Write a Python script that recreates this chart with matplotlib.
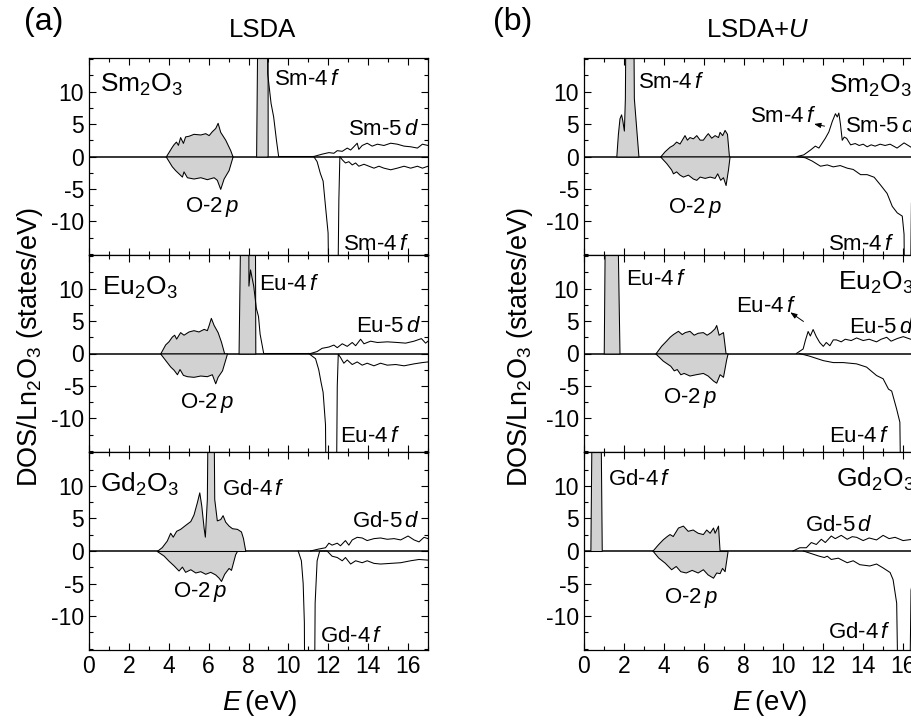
import numpy as np
import matplotlib
matplotlib.use("Agg")
import matplotlib.pyplot as plt
from matplotlib.ticker import MultipleLocator

plt.rcParams['font.family'] = ['Liberation Sans', 'DejaVu Sans']
plt.rcParams['mathtext.fontset'] = 'custom'
plt.rcParams['mathtext.rm'] = 'Liberation Sans'
plt.rcParams['mathtext.it'] = 'Liberation Sans:italic'
plt.rcParams['axes.unicode_minus'] = False

# ---- DOS curves, (E in eV, DOS) pairs ----
# spin up is positive, spin down negative; off-scale peaks put at 40

# (a) LSDA, Sm2O3
sm_a_o2p_up = [(3.85, 0), (4.15, 1.5), (4.24, 1.9), (4.36, 2.3), (4.46, 1.8), (4.57, 3.0), (4.71, 2.1),
               (4.82, 3.1), (4.99, 3.2), (5.24, 3.5), (5.58, 3.4), (5.83, 3.6), (6.0, 3.3), (6.16, 3.9),
               (6.33, 4.4), (6.45, 5.2), (6.58, 3.8), (6.83, 2.6), (7.08, 1.0), (7.2, 0)]
sm_a_o2p_dn = [(3.85, 0), (4.15, -1.5), (4.32, -2.1), (4.49, -2.6), (4.66, -3.1), (4.74, -2.3), (4.91, -3.2),
               (5.24, -3.4), (5.58, -3.2), (5.91, -3.5), (6.25, -3.2), (6.41, -3.6), (6.58, -5.0),
               (6.75, -3.4), (7.0, -2.1), (7.2, 0)]
sm_a_f_occ = [(8.38, 0), (8.5, 40), (8.95, 40), (8.96, 0)]
sm_a_up = [(8.93, 40), (8.96, 12.8), (9.13, 8.2), (9.26, 6.1), (9.4, 2.5), (9.51, 0), (11.27, 0), (11.69, 0.36),
           (12.03, 0.6), (12.28, 0.5), (12.45, 0.9), (12.7, 0.8), (12.95, 1.3), (13.12, 1.0), (13.28, 1.5),
           (13.45, 2.05), (13.53, 1.1), (13.7, 1.7), (13.95, 2.05), (14.2, 1.6), (14.46, 1.9), (14.79, 1.7),
           (15.13, 2.05), (15.46, 1.9), (15.8, 1.6), (16.13, 1.5), (16.47, 1.3), (16.72, 1.9), (17.0, 1.7)]
sm_a_dn = [(11.27, 0), (11.44, -0.8), (11.6, -2.6), (11.74, -3.8), (11.86, -7.7), (11.99, -11.8), (12.11, -40),
           (12.41, -40), (12.53, -6.7), (12.58, 0), (12.7, -0.5), (12.86, -1.0), (13.03, -0.8), (13.2, -1.3),
           (13.37, -1.0), (13.53, -1.5), (13.79, -1.2), (14.04, -1.5), (14.29, -1.8), (14.54, -1.5),
           (14.79, -1.8), (15.13, -2.05), (15.46, -1.8), (15.8, -1.5), (16.13, -1.8), (16.47, -1.5),
           (16.72, -1.8), (17.0, -1.5)]

# (a) LSDA, Eu2O3
eu_a_o2p_up = [(3.57, 0), (3.82, 1.4), (3.99, 1.9), (4.15, 2.6), (4.27, 2.9), (4.37, 2.3), (4.57, 3.3),
               (4.74, 2.9), (4.99, 3.4), (5.24, 3.6), (5.49, 3.4), (5.75, 3.8), (5.91, 3.6), (6.0, 4.4),
               (6.11, 5.5), (6.25, 4.4), (6.45, 3.3), (6.62, 1.8), (6.78, 0)]
eu_a_o2p_dn = [(3.57, 0), (3.82, -1.0), (4.07, -2.0), (4.24, -2.5), (4.41, -3.2), (4.54, -2.4), (4.71, -3.3),
               (4.91, -3.5), (5.24, -3.6), (5.58, -3.4), (5.91, -3.5), (6.16, -3.2), (6.33, -4.6),
               (6.45, -3.6), (6.67, -2.6), (6.92, 0)]
eu_a_f_occ = [(7.5, 0), (7.67, 40), (8.3, 40), (8.34, 0)]
eu_a_up = [(8.0, 40), (8.02, 10.4), (8.1, 12.9), (8.26, 10.4), (8.39, 7.0), (8.5, 5.7), (8.58, 3.0),
           (8.76, 0), (11.11, 0), (11.44, 0.3), (11.69, 0.8), (12.03, 1.0), (12.28, 1.3), (12.45, 0.9),
           (12.7, 1.5), (12.95, 1.1), (13.2, 1.7), (13.37, 1.2), (13.62, 2.2), (13.79, 1.5), (14.12, 1.9),
           (14.46, 1.7), (14.96, 1.8), (15.46, 1.7), (15.88, 1.6), (16.3, 1.9), (16.67, 2.3), (16.88, 1.6),
           (17.0, 1.9)]
eu_a_dn = [(11.02, 0), (11.36, -0.8), (11.52, -2.5), (11.64, -4.5), (11.74, -6.0), (11.86, -11), (11.94, -40),
           (12.36, -40), (12.45, -5), (12.5, -0.1), (12.61, -0.6), (12.78, -1.5), (12.95, -1.0), (13.2, -1.7),
           (13.45, -1.3), (13.7, -1.8), (13.95, -1.5), (14.29, -1.9), (14.62, -1.5), (14.96, -1.8),
           (15.38, -1.7), (15.8, -1.9), (16.3, -1.6), (16.72, -1.4), (17.0, -1.3)]

# (a) LSDA, Gd2O3 (occupied 4f sits inside the O-2p band)
gd_a_o2p_up = [(3.4, 0), (3.65, 0.6), (3.9, 1.6), (4.07, 2.8), (4.2, 2.2), (4.37, 3.1), (4.57, 3.4),
               (4.82, 4.0), (5.08, 4.6), (5.24, 5.6), (5.41, 7.5), (5.53, 9.0), (5.63, 7.0), (5.75, 3.5),
               (5.81, 2.2), (5.91, 8.0), (6.0, 40), (6.2, 40), (6.28, 8.0), (6.41, 4.7), (6.58, 4.9),
               (6.7, 5.5), (6.83, 4.5), (7.0, 3.9), (7.17, 3.5), (7.42, 3.4), (7.62, 3.0), (7.72, 2.0),
               (7.84, 0)]
gd_a_o2p_dn = [(3.4, 0), (3.74, -0.7), (3.99, -1.5), (4.24, -2.2), (4.49, -3.0), (4.66, -2.4), (4.82, -3.2),
               (5.08, -2.8), (5.33, -3.3), (5.58, -3.1), (5.83, -3.5), (6.08, -3.2), (6.33, -3.6),
               (6.5, -4.1), (6.62, -4.6), (6.78, -3.5), (7.0, -2.6), (7.12, -2.9), (7.33, -0.5), (7.42, 0)]
gd_a_f_occ = []
gd_a_up = [(11.11, 0), (11.52, 0.3), (11.86, 0.5), (12.03, 1.2), (12.19, 0.9), (12.45, 1.2), (12.61, 0.8),
           (12.86, 1.6), (13.03, 0.9), (13.2, 1.7), (13.45, 2.1), (13.7, 2.0), (13.95, 1.6), (14.29, 1.9),
           (14.62, 2.0), (14.96, 1.8), (15.3, 1.9), (15.63, 1.7), (16.0, 2.3), (16.3, 1.7), (16.55, 1.4),
           (16.8, 2.1), (17.0, 1.9)]
gd_a_dn = [(10.49, 0), (10.65, -1.5), (10.74, -5), (10.8, -11), (10.85, -40), (11.27, -40), (11.34, -8),
           (11.44, -1.5), (11.57, 0), (11.94, 0), (12.19, -0.8), (12.45, -1.0), (12.7, -1.5), (12.86, -1.0),
           (13.12, -2.0), (13.37, -1.5), (13.7, -1.8), (13.95, -1.5), (14.29, -1.9), (14.62, -2.0),
           (15.13, -1.9), (15.63, -1.8), (16.13, -1.5), (16.55, -1.3), (17.0, -1.4)]

# (b) LSDA+U, Sm2O3
sm_b_f_occ = [(1.62, 0), (1.7, 3.5), (1.78, 5.9), (1.86, 6.5), (1.92, 5.6), (2.0, 4.0), (2.05, 9.0),
              (2.12, 40), (2.43, 40), (2.5, 9.0), (2.73, 0)]
sm_b_o2p_up = [(3.82, 0), (4.04, 0.8), (4.29, 1.5), (4.46, 1.8), (4.62, 2.3), (4.79, 2.0), (5.04, 3.3),
               (5.16, 2.6), (5.29, 3.0), (5.46, 2.8), (5.63, 3.3), (5.8, 2.6), (5.96, 2.6), (6.1, 3.2),
               (6.21, 3.6), (6.38, 2.9), (6.55, 3.3), (6.72, 3.0), (6.8, 3.8), (6.93, 3.3), (7.05, 4.1),
               (7.17, 3.5), (7.27, 0)]
sm_b_o2p_dn = [(3.82, 0), (4.12, -1.0), (4.37, -2.0), (4.46, -2.6), (4.62, -2.3), (4.79, -2.8), (4.96, -3.1),
               (5.21, -2.8), (5.46, -3.4), (5.63, -3.6), (5.8, -3.1), (6.05, -3.3), (6.3, -3.1), (6.55, -3.3),
               (6.68, -2.6), (6.83, -3.6), (6.97, -3.2), (7.1, -4.4), (7.22, -2.0), (7.3, 0)]
sm_b_up = [(10.69, 0), (11.02, 0.25), (11.36, 1.0), (11.6, 1.6), (11.78, 1.3), (12.1, 2.8), (12.28, 3.8),
           (12.45, 5.4), (12.61, 6.6), (12.7, 6.1), (12.78, 6.7), (12.86, 5.0), (12.95, 2.5), (13.05, 3.0),
           (13.17, 2.8), (13.37, 1.8), (13.6, 2.0), (13.8, 1.7), (14.0, 1.9), (14.2, 1.5), (14.4, 1.8),
           (14.6, 1.6), (14.85, 1.9), (15.1, 1.7), (15.35, 1.9), (15.7, 1.3), (16.05, 2.1), (16.47, 1.3),
           (17.0, 1.6)]
sm_b_dn = [(10.69, 0), (11.1, -0.2), (11.44, -0.7), (11.86, -1.5), (12.2, -1.3), (12.5, -1.6), (12.85, -1.4),
           (13.2, -1.8), (13.5, -2.0), (13.87, -2.8), (14.2, -2.8), (14.55, -3.2), (14.87, -4.4),
           (15.2, -5.7), (15.46, -7.7), (15.71, -8.7), (15.96, -9.2), (16.05, -12), (16.13, -40),
           (16.3, -40), (16.42, -7.2), (16.55, -3.0), (17.0, -2.0)]

# (b) LSDA+U, Eu2O3
eu_b_f_occ = [(0.99, 0), (1.1, 40), (1.57, 40), (1.78, 0)]
eu_b_o2p_up = [(3.58, 0), (3.87, 1.2), (4.12, 2.0), (4.3, 2.6), (4.46, 3.0), (4.71, 3.5), (4.9, 3.0),
               (5.05, 3.3), (5.29, 3.5), (5.5, 2.9), (5.7, 3.2), (5.96, 3.3), (6.15, 2.9), (6.35, 3.3),
               (6.55, 3.9), (6.63, 4.4), (6.75, 2.9), (6.97, 3.3), (7.1, 0)]
eu_b_o2p_dn = [(3.58, 0), (3.95, -1.1), (4.33, -1.9), (4.5, -2.6), (4.65, -2.4), (4.83, -3.2), (5.0, -3.0),
               (5.29, -3.4), (5.6, -3.2), (5.96, -3.0), (6.2, -3.4), (6.48, -4.2), (6.63, -4.5), (6.8, -3.2),
               (6.97, -3.6), (7.13, -0.9), (7.2, 0)]
eu_b_up = [(10.65, 0), (10.99, 0.7), (11.1, 2.0), (11.24, 3.4), (11.35, 2.7), (11.49, 3.7), (11.65, 2.6),
           (11.82, 1.7), (12.0, 1.1), (12.15, 1.7), (12.33, 1.2), (12.5, 2.1), (12.66, 2.1), (12.9, 1.8),
           (13.1, 2.2), (13.4, 2.0), (13.67, 2.4), (14.0, 2.0), (14.3, 2.2), (14.67, 1.8), (14.9, 2.2),
           (15.18, 2.5), (15.4, 1.9), (15.7, 2.3), (16.01, 2.6), (16.48, 2.1), (17.0, 2.3)]
eu_b_dn = [(10.8, 0), (11.3, -0.4), (11.7, -0.8), (12.0, -1.1), (12.5, -1.4), (13.0, -1.4), (13.67, -1.6),
           (14.17, -2.1), (14.67, -3.4), (15.0, -3.9), (15.27, -5.5), (15.43, -5.8), (15.68, -8.6),
           (15.84, -10.6), (15.96, -40), (16.38, -40), (16.48, -8.0), (16.6, -3.0), (17.0, -2.0)]

# (b) LSDA+U, Gd2O3
gd_b_f_occ = [(0.32, 0), (0.44, 40), (0.77, 40), (0.89, 0)]
gd_b_o2p_up = [(3.42, 0), (3.7, 1.0), (3.95, 1.8), (4.15, 2.3), (4.29, 2.6), (4.45, 2.3), (4.71, 3.6),
               (4.96, 3.9), (5.2, 3.1), (5.45, 3.3), (5.7, 2.8), (5.96, 2.6), (6.13, 3.3), (6.3, 2.8),
               (6.47, 3.6), (6.55, 2.8), (6.72, 3.9), (6.8, 0)]
gd_b_o2p_dn = [(3.45, 0), (3.72, -1.0), (4.05, -1.8), (4.37, -2.8), (4.6, -2.3), (4.83, -3.1), (5.1, -3.3),
               (5.4, -2.9), (5.7, -3.3), (5.96, -2.8), (6.2, -3.6), (6.47, -4.1), (6.63, -3.3), (6.8, -3.4),
               (6.92, -2.6), (7.05, -3.1), (7.2, 0)]
gd_b_up = [(10.48, 0), (10.82, 0.5), (11.15, 0.5), (11.4, 1.3), (11.65, 1.0), (11.9, 1.8), (12.1, 1.3),
           (12.4, 2.3), (12.6, 1.9), (12.9, 2.4), (13.2, 1.8), (13.45, 2.2), (13.67, 2.1), (14.0, 1.6),
           (14.3, 2.0), (14.67, 1.7), (15.0, 2.4), (15.3, 1.9), (15.6, 2.1), (16.0, 1.6), (16.48, 1.8),
           (17.0, 1.9)]
gd_b_dn = [(11.0, 0), (11.3, -0.3), (11.8, -0.8), (12.05, -1.0), (12.2, -0.8), (12.4, -1.3), (12.75, -1.1),
           (13.2, -1.8), (13.5, -1.5), (13.83, -2.1), (14.33, -2.3), (14.67, -2.0), (15.0, -2.6),
           (15.35, -3.3), (15.5, -4.4), (15.68, -8.0), (15.84, -40), (16.26, -40), (16.4, -6.0),
           (16.6, -3.0), (17.0, -2.5)]

FILL = '#d2d2d2'
LW = 0.75


def draw_panel(ax, o2p_up, o2p_dn, f_occ, line_up, line_dn):
    ax.axhline(0, color='k', lw=1.1, zorder=1)
    for pts in (f_occ, o2p_up, o2p_dn):
        if len(pts) == 0:
            continue
        e, v = np.array(pts).T
        ax.fill_between(e, v, 0, facecolor=FILL, edgecolor='k', lw=LW, zorder=2)
    for pts in (line_up, line_dn):
        e, v = np.array(pts).T
        ax.plot(e, v, color='k', lw=LW, zorder=3)
    ax.set_xlim(0, 17)
    ax.set_ylim(-15.2, 15.2)
    ax.xaxis.set_major_locator(MultipleLocator(2))
    ax.xaxis.set_minor_locator(MultipleLocator(1))
    ax.yaxis.set_major_locator(MultipleLocator(5))
    ax.yaxis.set_minor_locator(MultipleLocator(2.5))
    ax.set_yticks([-10, -5, 0, 5, 10])
    ax.tick_params(which='both', direction='in', top=True, right=True, labelsize=16.5, width=0.8)
    ax.tick_params(which='major', length=5)
    ax.tick_params(which='minor', length=3)
    for s in ax.spines.values():
        s.set_linewidth(0.9)


fig = plt.figure(figsize=(9.12, 7.25), dpi=100)
W, H = 912.0, 725.0

# panel rows in pixels (top, bottom)
rows = [(58, 255), (255, 452), (452, 650)]
cols = [89, 584]
col_w = 339

panels = {
    (0, 0): (sm_a_o2p_up, sm_a_o2p_dn, sm_a_f_occ, sm_a_up, sm_a_dn),
    (1, 0): (eu_a_o2p_up, eu_a_o2p_dn, eu_a_f_occ, eu_a_up, eu_a_dn),
    (2, 0): (gd_a_o2p_up, gd_a_o2p_dn, gd_a_f_occ, gd_a_up, gd_a_dn),
    (0, 1): (sm_b_o2p_up, sm_b_o2p_dn, sm_b_f_occ, sm_b_up, sm_b_dn),
    (1, 1): (eu_b_o2p_up, eu_b_o2p_dn, eu_b_f_occ, eu_b_up, eu_b_dn),
    (2, 1): (gd_b_o2p_up, gd_b_o2p_dn, gd_b_f_occ, gd_b_up, gd_b_dn),
}

axes = {}
for (r, c), data in panels.items():
    top, bot = rows[r]
    ax = fig.add_axes([cols[c] / W, 1 - bot / H, col_w / W, (bot - top) / H])
    draw_panel(ax, *data)
    if r < 2:
        ax.tick_params(labelbottom=False)
    axes[(r, c)] = ax

# labels inside panels: (row, col, E, DOS at baseline, text, size)
F_ANN = 16
F_FORM = 19
labels = [
    (0, 0, 0.55, 10.0, r'Sm$_2$O$_3$', F_FORM), (0, 0, 9.29, 11.0, r'Sm-4$\,f$', F_ANN),
    (0, 0, 13.0, 3.3, r'Sm-5$\,d$', F_ANN), (0, 0, 4.82, -8.5, r'O-2$\,p$', F_ANN),
    (0, 0, 12.76, -14.4, r'Sm-4$\,f$', F_ANN),
    (1, 0, 0.65, 9.0, r'Eu$_2$O$_3$', F_FORM), (1, 0, 8.54, 9.8, r'Eu-4$\,f$', F_ANN),
    (1, 0, 13.37, 3.35, r'Eu-5$\,d$', F_ANN), (1, 0, 4.57, -8.4, r'O-2$\,p$', F_ANN),
    (1, 0, 12.6, -13.6, r'Eu-4$\,f$', F_ANN),
    (2, 0, 0.55, 9.1, r'Gd$_2$O$_3$', F_FORM), (2, 0, 6.68, 8.6, r'Gd-4$\,f$', F_ANN),
    (2, 0, 13.2, 3.7, r'Gd-5$\,d$', F_ANN), (2, 0, 4.2, -7.0, r'O-2$\,p$', F_ANN),
    (2, 0, 11.6, -14.0, r'Gd-4$\,f$', F_ANN),
    (0, 1, 2.71, 10.5, r'Sm-4$\,f$', F_ANN), (0, 1, 12.3, 9.8, r'Sm$_2$O$_3$', F_FORM),
    (0, 1, 8.34, 5.3, r'Sm-4$\,f$', F_ANN), (0, 1, 13.07, 3.8, r'Sm-5$\,d$', F_ANN),
    (0, 1, 4.22, -8.7, r'O-2$\,p$', F_ANN), (0, 1, 12.25, -14.4, r'Sm-4$\,f$', F_ANN),
    (1, 1, 2.11, 10.5, r'Eu-4$\,f$', F_ANN), (1, 1, 12.76, 9.8, r'Eu$_2$O$_3$', F_FORM),
    (1, 1, 7.64, 6.4, r'Eu-4$\,f$', F_ANN), (1, 1, 13.3, 3.1, r'Eu-5$\,d$', F_ANN),
    (1, 1, 3.97, -7.6, r'O-2$\,p$', F_ANN), (1, 1, 12.3, -13.6, r'Eu-4$\,f$', F_ANN),
    (2, 1, 1.2, 10.2, r'Gd-4$\,f$', F_ANN), (2, 1, 12.66, 9.8, r'Gd$_2$O$_3$', F_FORM),
    (2, 1, 11.06, 3.0, r'Gd-5$\,d$', F_ANN), (2, 1, 4.02, -8.0, r'O-2$\,p$', F_ANN),
    (2, 1, 12.26, -13.4, r'Gd-4$\,f$', F_ANN),
]
for r, c, x, y, txt, fs in labels:
    axes[(r, c)].text(x, y, txt, fontsize=fs, ha='left', va='baseline', clip_on=False, zorder=5)

# small arrows pointing from the 4f feature to its label in LSDA+U
arrow_kw = dict(arrowstyle='-|>,head_length=0.4,head_width=0.15', color='k', lw=0.7)
axes[(0, 1)].annotate('', xy=(11.4, 5.1), xytext=(12.2, 4.6), arrowprops=arrow_kw)
axes[(1, 1)].annotate('', xy=(10.23, 6.6), xytext=(11.12, 4.7), arrowprops=arrow_kw)

# titles, panel letters, axis labels
fig.text(44 / W, 1 - 22 / H, '(a)', fontsize=23, ha='center', va='center')
fig.text(513 / W, 1 - 22 / H, '(b)', fontsize=23, ha='center', va='center')
fig.text(263 / W, 1 - 30 / H, 'LSDA', fontsize=18.5, ha='center', va='center')
fig.text(758 / W, 1 - 30 / H, r'LSDA+$U$', fontsize=18.5, ha='center', va='center')
fig.text(260 / W, 1 - 703 / H, r'$E\,$(eV)', fontsize=20, ha='center', va='center')
fig.text(770 / W, 1 - 703 / H, r'$E\,$(eV)', fontsize=20, ha='center', va='center')
ylab = r'DOS/Ln$_2$O$_3$ (states/eV)'
fig.text(30 / W, 1 - 347 / H, ylab, fontsize=19.5, rotation=90, ha='center', va='center')
fig.text(520 / W, 1 - 347 / H, ylab, fontsize=19.5, rotation=90, ha='center', va='center')

fig.savefig('out.png', dpi=100)
